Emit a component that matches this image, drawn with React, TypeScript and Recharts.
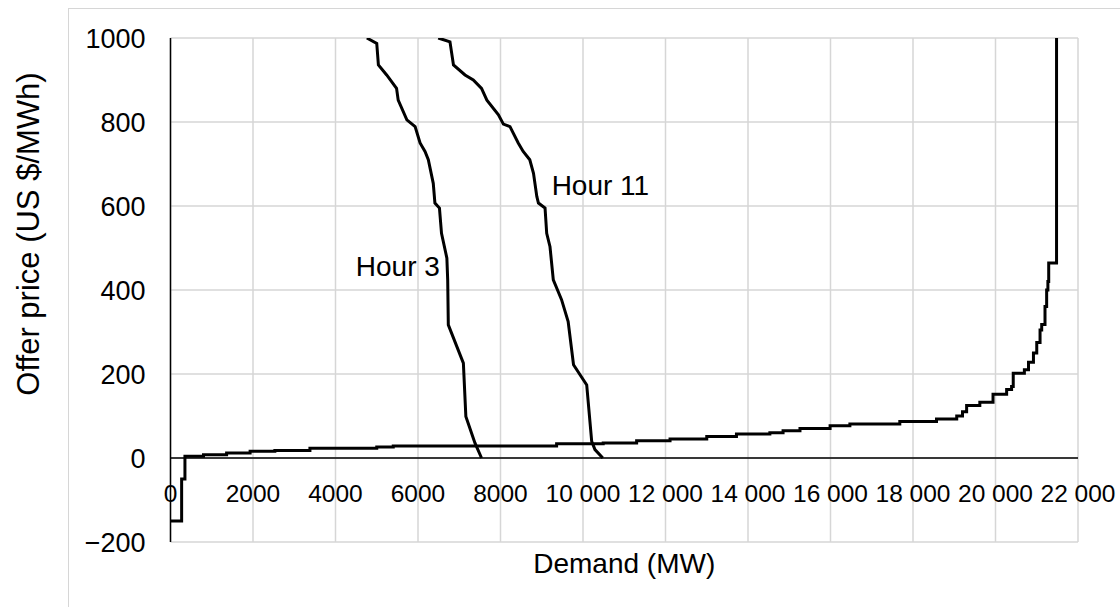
import React from "react";
import { LineChart, Line, XAxis, YAxis, CartesianGrid, ReferenceLine, ReferenceDot, Label } from "recharts";

// Supply (offer) curve: [demand MW, price $/MWh], drawn as steps
const supplyX = [0, 270, 350, 800, 1360, 1930, 2530, 3380, 5000, 5400, 9360, 10490, 11300, 12110, 13000, 13720, 14530, 14850, 15260, 15990, 16470, 17680, 18570, 19060, 19200, 19300, 19620, 19940, 20270, 20390, 20430, 20700, 20800, 20920, 21000, 21080, 21120, 21200, 21240, 21270, 21290, 21480];
const supplyY = [-150, -50, 4, 8, 12, 16, 18, 23, 26, 28.5, 34, 36, 41, 45, 51, 57, 60, 65, 70, 77, 81, 87, 93, 100, 110, 125, 133, 152, 163, 170, 202, 210, 228, 250, 275, 305, 318, 361, 400, 420, 464, 1000];

// Demand curve, hour 3
const hour3X = [4760, 5000, 5040, 5240, 5480, 5520, 5730, 5930, 6050, 6170, 6250, 6370, 6410, 6520, 6570, 6700, 6720, 6735, 7100, 7160, 7380, 7540];
const hour3Y = [1000, 987, 936, 912, 880, 852, 805, 789, 750, 730, 710, 654, 607, 595, 535, 476, 424, 317, 226, 99, 36, 0];

// Demand curve, hour 11
const hour11X = [6490, 6775, 6860, 7140, 7340, 7540, 7670, 7950, 8070, 8230, 8430, 8550, 8710, 8800, 8880, 8920, 9080, 9120, 9200, 9280, 9480, 9640, 9770, 10090, 10210, 10290, 10480];
const hour11Y = [1000, 991, 936, 912, 900, 880, 852, 817, 795, 789, 750, 730, 710, 678, 623, 607, 595, 535, 503, 424, 377, 325, 222, 174, 40, 20, 0];

const xTicks = [0, 2000, 4000, 6000, 8000, 10000, 12000, 14000, 16000, 18000, 20000, 22000];
const yTicks = [-200, 0, 200, 400, 600, 800, 1000];

const annotationText = ["Hour 3", "Hour 11"];
const annotationX = [6530, 9240];
const annotationY = [457, 650];
const annotationAnchor = ["end", "start"];

const zip = (xs: number[], ys: number[]) => xs.map((x, i) => ({ x, y: ys[i] }));
const supplyData = zip(supplyX, supplyY);
const hour3Data = zip(hour3X, hour3Y);
const hour11Data = zip(hour11X, hour11Y);

const fmtX = (v: number) => {
  const s = String(v);
  return s.length > 4 ? s.slice(0, -3) + " " + s.slice(-3) : s;
};
const fmtY = (v: number) => (v < 0 ? "\u2212" + Math.abs(v) : String(v));

const XTick = (props: any) => {
  const { x, y, payload } = props;
  return (
    <text x={x} y={y - 49} textAnchor="middle" dominantBaseline="central" fontSize={24.5} fill="#000">
      {fmtX(payload.value)}
    </text>
  );
};

const YTitle = (props: any) => {
  const vb = props.viewBox;
  const cx = vb.x + 20;
  const cy = vb.y + vb.height / 2 - 56;
  return (
    <text x={cx} y={cy} transform={`rotate(-90, ${cx}, ${cy})`} textAnchor="middle" dominantBaseline="central" fontSize={31} fill="#000">
      Offer price (US $/MWh)
    </text>
  );
};

const XTitle = (props: any) => {
  const vb = props.viewBox;
  const cx = vb.x + vb.width / 2;
  const cy = vb.y + 21;
  return (
    <text x={cx} y={cy} textAnchor="middle" dominantBaseline="central" fontSize={28} fill="#000">
      Demand (MW)
    </text>
  );
};

const makeAnno = (i: number) => (props: any) => {
  const vb = props.viewBox;
  return (
    <text x={vb.x + vb.width / 2} y={vb.y + vb.height / 2} textAnchor={annotationAnchor[i] as any} dominantBaseline="central" fontSize={28} fill="#000">
      {annotationText[i]}
    </text>
  );
};

export default function App() {
  return (
    <div style={{ position: "fixed", left: 0, top: 0, width: 1120, height: 607, overflow: "hidden", background: "#fff", fontFamily: "'Liberation Sans', Arial, sans-serif" }}>
      <div style={{ position: "absolute", left: 68, top: 8, width: 1052, height: 599, borderTop: "1.5px solid #d6d6d6", borderLeft: "1.5px solid #d6d6d6", boxSizing: "border-box" }} />
      <div style={{ position: "absolute", left: 8, top: 8 }}>
        <LineChart width={1112} height={599} margin={{ top: 30, right: 42, left: 0, bottom: 5 }} style={{ overflow: "visible" }}>
          <CartesianGrid stroke="#d6d6d6" strokeWidth={1.5} horizontalValues={yTicks} verticalValues={xTicks} />
          <XAxis
            type="number"
            dataKey="x"
            domain={[0, 22000]}
            ticks={xTicks}
            allowDataOverflow
            height={60}
            axisLine={false}
            tickLine={false}
            tickSize={0}
            tickMargin={0}
            tick={<XTick />}
            interval={0}
            label={<Label content={XTitle} />}
          />
          <YAxis
            type="number"
            dataKey="y"
            domain={[-200, 1000]}
            ticks={yTicks}
            allowDataOverflow
            width={162.5}
            axisLine={{ stroke: "#000", strokeWidth: 1.5 }}
            tickLine={false}
            tickSize={0}
            tickMargin={25}
            tick={{ fontSize: 27, fill: "#000" }}
            tickFormatter={fmtY}
            interval={0}
            label={<Label content={YTitle} />}
          />
          <ReferenceLine y={0} stroke="#000" strokeWidth={1.5} />
          <Line data={supplyData} dataKey="y" type="stepAfter" stroke="#000" strokeWidth={3} dot={false} isAnimationActive={false} />
          <Line data={hour3Data} dataKey="y" type="linear" stroke="#000" strokeWidth={3} dot={false} isAnimationActive={false} />
          <Line data={hour11Data} dataKey="y" type="linear" stroke="#000" strokeWidth={3} dot={false} isAnimationActive={false} />
          {annotationText.map((t, i) => (
            <ReferenceDot key={t} x={annotationX[i]} y={annotationY[i]} r={0} fill="none" stroke="none" label={<Label content={makeAnno(i)} />} />
          ))}
        </LineChart>
      </div>
    </div>
  );
}
